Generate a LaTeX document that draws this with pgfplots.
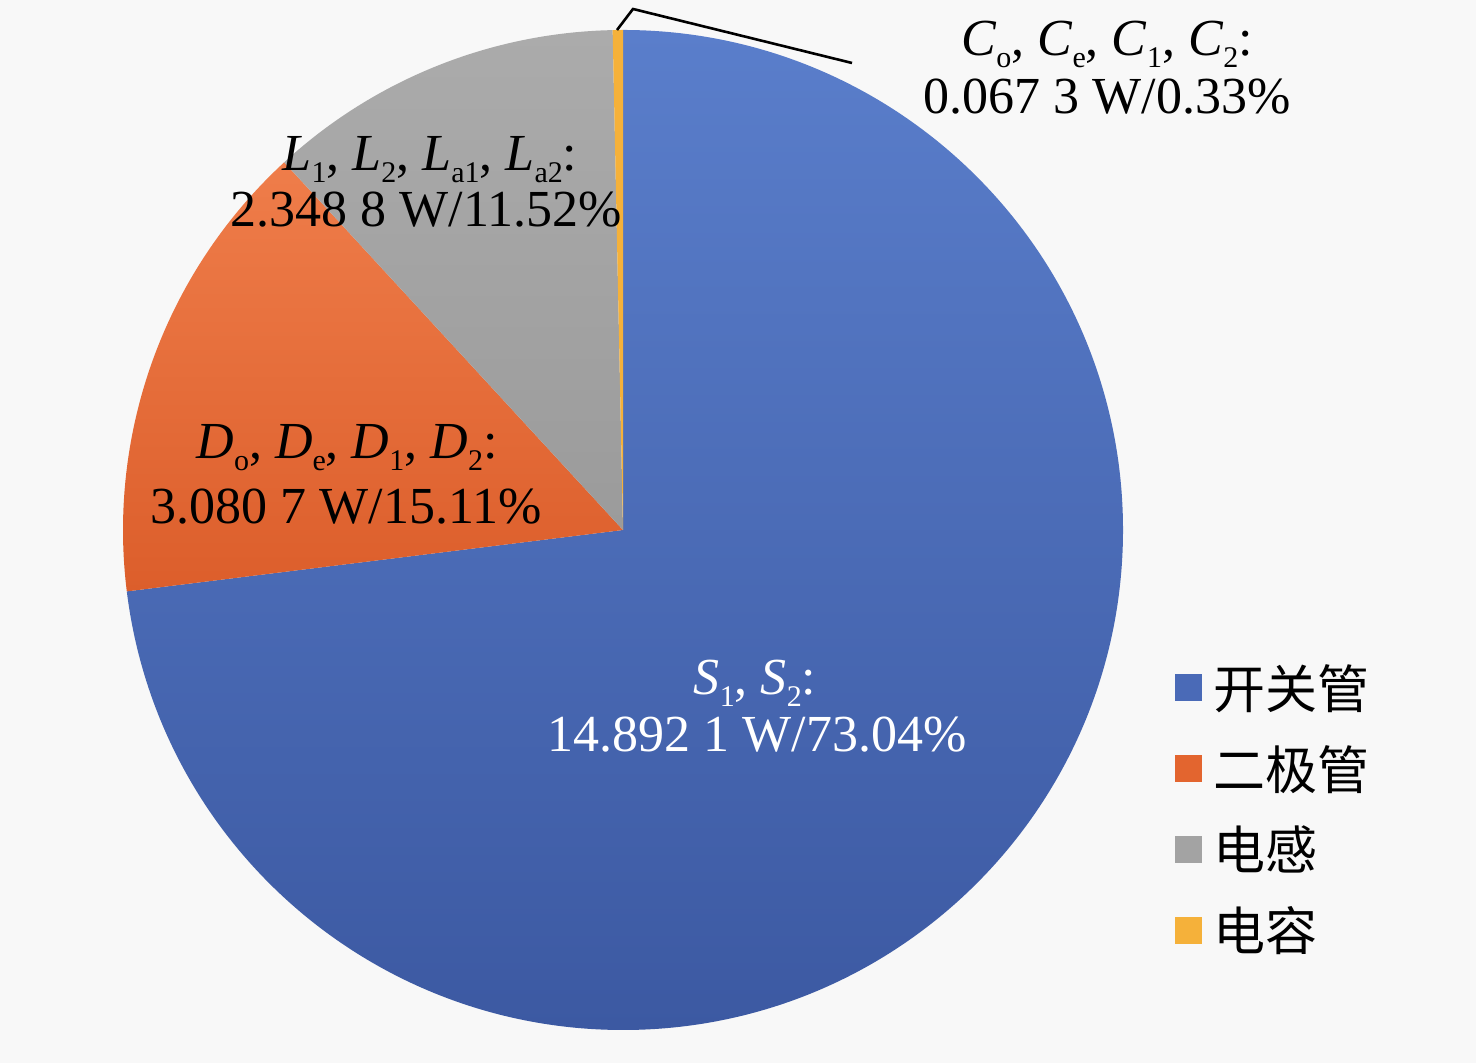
\documentclass[border=0pt]{standalone}
\usepackage{pgfplots}
\pgfplotsset{compat=1.18}
\usepackage{fontspec}
\setmainfont{Liberation Serif}
\newfontfamily\cjk{Noto Sans CJK SC}

\definecolor{bg}{HTML}{F8F8F8}
\definecolor{cS}{HTML}{4A6AB7}
\definecolor{cSt}{HTML}{5A7ECB}
\definecolor{cSb}{HTML}{3C59A2}
\definecolor{cD}{HTML}{E3652F}
\definecolor{cDt}{HTML}{EF7D4A}
\definecolor{cDb}{HTML}{DC5E2B}
\definecolor{cL}{HTML}{A3A3A3}
\definecolor{cLt}{HTML}{ABABAB}
\definecolor{cLb}{HTML}{9B9B9B}
\definecolor{cC}{HTML}{F5B13A}

% losses in W: switches, diodes, inductors, capacitors
\def\vS{14.8921}
\def\vD{3.0807}
\def\vL{2.3488}
\def\vC{0.0673}
\pgfmathsetmacro\vT{\vS+\vD+\vL+\vC}
\pgfmathsetmacro\aA{90}
\pgfmathsetmacro\aB{\aA-360*\vS/\vT}
\pgfmathsetmacro\aC{\aB-360*\vD/\vT}
\pgfmathsetmacro\aD{\aC-360*\vL/\vT}
\pgfmathsetmacro\aE{\aD-360*\vC/\vT}

\newcommand\lbl{\fontsize{26}{30}\selectfont}
\newcommand\sub[1]{\raisebox{-0.22em}{\fontsize{15}{15}\selectfont #1}}

\begin{document}
\begin{tikzpicture}
\begin{axis}[
  x=0.5pt, y=0.5pt,
  xmin=0, xmax=1476, ymin=0, ymax=1063,
  hide axis, clip=false,
  legend image code/.code={\fill[#1, draw=none] (0pt,-6.75pt) rectangle (13.5pt,6.75pt);},
  legend style={draw=none, fill=none, inner sep=0pt,
    at={(axis cs:1175,403)}, anchor=north west,
    font=\cjk\fontsize{26}{30}\selectfont, row sep=13pt,
    /tikz/every odd column/.append style={column sep=3.5pt}},
  legend cell align=left,
]
\fill[bg] (rel axis cs:0,0) rectangle (rel axis cs:1,1);

\shade[top color=cSt, middle color=cS, bottom color=cSb]
  (axis cs:623,533) -- ++(\aA:250pt) arc[start angle=\aA, end angle=\aB, radius=250pt] -- cycle;
\shade[top color=cDt, bottom color=cDb]
  (axis cs:623,533) -- ++(\aB:250pt) arc[start angle=\aB, end angle=\aC, radius=250pt] -- cycle;
\shade[top color=cLt, bottom color=cLb]
  (axis cs:623,533) -- ++(\aC:250pt) arc[start angle=\aC, end angle=\aD, radius=250pt] -- cycle;
\fill[cC]
  (axis cs:623,533) -- ++(\aD:250pt) arc[start angle=\aD, end angle=\aE, radius=250pt] -- cycle;

\addlegendimage{fill=cS}\addlegendentry{开关管}
\addlegendimage{fill=cD}\addlegendentry{二极管}
\addlegendimage{fill=cL}\addlegendentry{电感}
\addlegendimage{fill=cC}\addlegendentry{电容}

% leader line for the capacitor slice
\draw[line width=1.3pt] (axis cs:617,1033) -- (axis cs:633,1054) -- (axis cs:852,1000);

\node[anchor=base, font=\lbl] at (axis cs:1107,1007)
  {\textit{C}\sub{o}, \textit{C}\sub{e}, \textit{C}\sub{1}, \textit{C}\sub{2}:};
\node[anchor=base, font=\lbl] at (axis cs:1107,949) {0.067 3 W/0.33\%};

\node[anchor=base, font=\lbl] at (axis cs:430,892)
  {\textit{L}\sub{1}, \textit{L}\sub{2}, \textit{L}\sub{a1}, \textit{L}\sub{a2}:};
\node[anchor=base, font=\lbl] at (axis cs:426,836) {2.348 8 W/11.52\%};

\node[anchor=base, font=\lbl] at (axis cs:347,604)
  {\textit{D}\sub{o}, \textit{D}\sub{e}, \textit{D}\sub{1}, \textit{D}\sub{2}:};
\node[anchor=base, font=\lbl] at (axis cs:346,539) {3.080 7 W/15.11\%};

\node[anchor=base, font=\lbl, text=white] at (axis cs:755,368)
  {\textit{S}\sub{1}, \textit{S}\sub{2}:};
\node[anchor=base, font=\lbl, text=white] at (axis cs:757,311) {14.892 1 W/73.04\%};
\end{axis}
\end{tikzpicture}
\end{document}
